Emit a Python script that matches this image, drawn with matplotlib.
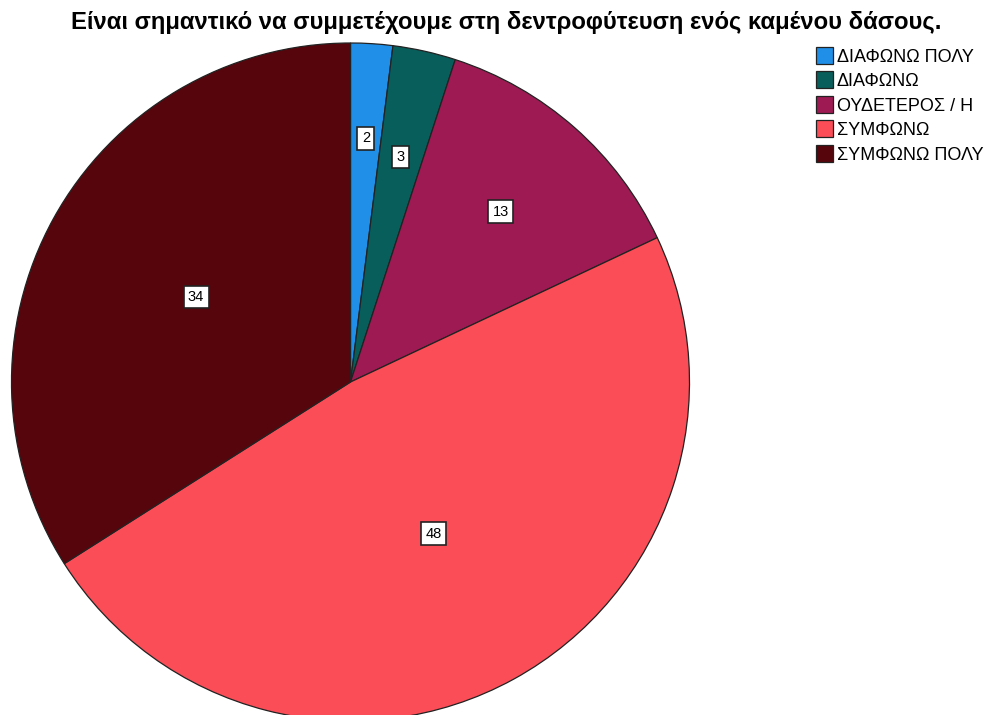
import matplotlib
matplotlib.use("Agg")
import matplotlib.pyplot as plt
import numpy as np

title = "Είναι σημαντικό να συμμετέχουμε στη δεντροφύτευση ενός καμένου δάσους."
categories = ["ΔΙΑΦΩΝΩ ΠΟΛΥ", "ΔΙΑΦΩΝΩ", "ΟΥΔΕΤΕΡΟΣ / Η", "ΣΥΜΦΩΝΩ", "ΣΥΜΦΩΝΩ ΠΟΛΥ"]
values = [2, 3, 13, 48, 34]
colors = ["#1F8FE8", "#085E5B", "#9E1A52", "#FA4D57", "#56050C"]
label_r = [0.72, 0.68, 0.67, 0.51, 0.52]

plt.rcParams['font.family'] = ['Liberation Sans', 'DejaVu Sans']

W, H = 999, 715
fig = plt.figure(figsize=(W / 100, H / 100), dpi=100)
ax = fig.add_axes([0, 0, 1, 1])
cx, cy, R = 350.5, 382.0, 339.0

wedges, _ = ax.pie(values, colors=colors, startangle=90, counterclock=False,
                   radius=1.0, center=(0, 0), frame=True,
                   wedgeprops=dict(edgecolor='#222222', linewidth=0.9))
ax.set_xlim(-cx / R, (W - cx) / R)
ax.set_ylim(-(H - cy) / R, cy / R)
ax.set_aspect('auto')
ax.axis('off')

for w, v, r in zip(wedges, values, label_r):
    ang = np.deg2rad((w.theta1 + w.theta2) / 2)
    ax.text(r * np.cos(ang), r * np.sin(ang), str(v), ha='center', va='center',
            fontsize=10.5, color='black',
            bbox=dict(boxstyle='square,pad=0.3', facecolor='white',
                      edgecolor='#222222', linewidth=1.2))

fig.text(0.507, 1 - 22 / H, title, ha='center', va='center',
         fontsize=17.2, fontweight='bold')

fig.legend(wedges, categories, loc='upper left', bbox_to_anchor=(816 / W, 1 - 47 / H),
           frameon=False, fontsize=13, handlelength=0.95, handleheight=1.05,
           handletextpad=0.2, labelspacing=0.33, borderpad=0, borderaxespad=0)

fig.savefig("out.png", dpi=100)
